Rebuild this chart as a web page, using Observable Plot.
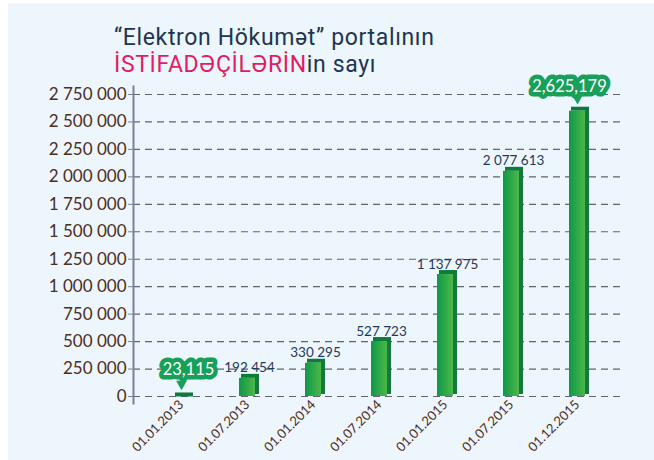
<!DOCTYPE html>
<html>
<head>
<meta charset="utf-8">
<script src="https://cdn.jsdelivr.net/npm/d3@7"></script>
<script src="https://cdn.jsdelivr.net/npm/@observablehq/plot@0.6"></script>
<style>
  html, body { margin: 0; padding: 0; background: #ffffff; }
  #wrap { position: absolute; left: 8px; top: 3px; width: 646px; height: 457px; background: #edf5fd; overflow: hidden; }
  #title { padding: 21px 0 0 106px; height: 56px; font-family: Roboto, sans-serif; font-size: 23px; line-height: 27px; letter-spacing: 0.65px; color: #1c3553; }
  #title .hl { color: #e31b5f; }
  svg { display: block; }
</style>
</head>
<body>
<div id="wrap">
  <div id="title">“Elektron Hökumət” portalının<br><span class="hl">İSTİFADƏÇİLƏRİN</span>in sayı</div>
  <div id="chart"></div>
</div>
<script>
const dates = ["01.01.2013","01.07.2013","01.01.2014","01.07.2014","01.01.2015","01.07.2015","01.12.2015"];
const users = [23115, 192454, 330295, 527723, 1137975, 2077613, 2625179];
const yTicks = [0, 250000, 500000, 750000, 1000000, 1250000, 1500000, 1750000, 2000000, 2250000, 2500000, 2750000];
const firstCallout = "01.01.2013";
const lastCallout = "01.12.2015";

const data = dates.map((d, i) => ({date: d, users: users[i]}));
const spaced = v => d3.format(",")(v).replace(/,/g, " ");
const plain = data.filter(d => d.date !== firstCallout && d.date !== lastCallout);
const cFirst = data.filter(d => d.date === firstCallout);
const cLast = data.filter(d => d.date === lastCallout);

const brown = "#4b2e1e";
const navy = "#1e3a5a";
const green = "#17a05a";

const chart = Plot.plot({
  width: 646,
  height: 380,
  marginLeft: 125,
  marginRight: 29,
  marginTop: 14,
  marginBottom: 64,
  style: {background: "transparent", fontFamily: "Lato, sans-serif", overflow: "visible"},
  x: {domain: dates, paddingInner: 0.759, paddingOuter: 0.59, label: null},
  y: {domain: [0, 2750000], label: null},
  marks: [
    Plot.ruleY(yTicks, {stroke: "#5f6479", strokeWidth: 1.2, strokeDasharray: "7,5"}),
    Plot.frame({anchor: "left", stroke: "#7b8098", strokeWidth: 2, insetTop: -8, insetBottom: -7}),
    Plot.axisY({ticks: yTicks, tickSize: 5, text: null, stroke: "#7b8098", label: null}),
    Plot.axisY({ticks: yTicks, tickSize: 0, tickPadding: 7, tickFormat: spaced, fontSize: 17, color: brown, label: null}),
    Plot.axisX({tickRotate: -45, tickSize: 0, tickPadding: 6, fontSize: 13, color: brown, label: null}),
    Plot.barY(data, {x: "date", y: "users", fill: "#137a3b", dx: 10, dy: -2, insetLeft: 6, insetRight: 6, insetTop: 3}),
    Plot.barY(data, {x: "date", y1: "users", y2: "users", fill: "#0d7c3b", dx: 2, insetTop: -1, insetBottom: -3, insetRight: -2}),
    Plot.barY(data, {x: "date", y: "users", fill: "url(#barGrad)", insetTop: 3}),
    Plot.text(plain, {x: "date", y: "users", text: d => spaced(d.users), dx: 2, dy: -3, lineAnchor: "bottom", fill: navy, fontSize: 13.5}),
    Plot.dot(cFirst, {x: "date", y: "users", symbol: "triangle", r: 4, rotate: 180, fill: green, dy: -10}),
    Plot.text(cFirst, {x: "date", y: "users", text: d => d3.format(",")(d.users), dx: 7, dy: -24, fill: "white", stroke: green, strokeWidth: 9, strokeLinejoin: "round", paintOrder: "stroke", fontSize: 16.5}),
    Plot.dot(cLast, {x: "date", y: "users", symbol: "triangle", r: 4, rotate: 180, fill: green, dy: -10}),
    Plot.text(cLast, {x: "date", y: "users", text: d => d3.format(",")(d.users), dx: -8, dy: -21, fill: "white", stroke: green, strokeWidth: 9, strokeLinejoin: "round", paintOrder: "stroke", fontSize: 16.5})
  ]
});

const defs = d3.select(chart).insert("defs", ":first-child");
const g = defs.append("linearGradient").attr("id", "barGrad").attr("x1", "0").attr("x2", "1").attr("y1", "0").attr("y2", "0");
g.append("stop").attr("offset", "0%").attr("stop-color", "#0f9749");
g.append("stop").attr("offset", "100%").attr("stop-color", "#4cb848");

document.getElementById("chart").appendChild(chart);
</script>
</body>
</html>
